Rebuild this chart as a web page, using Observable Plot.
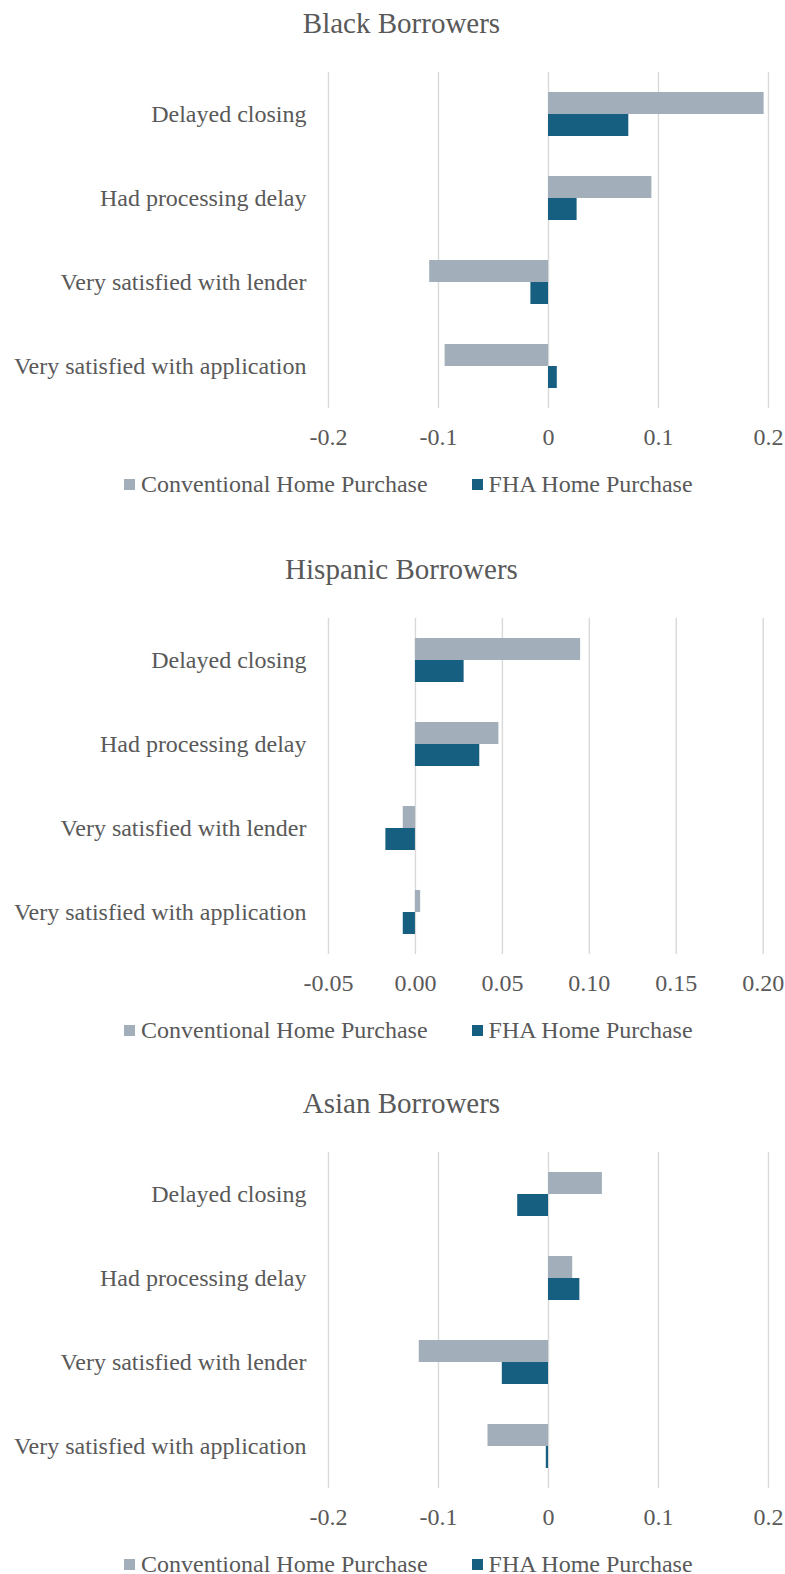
<!DOCTYPE html>
<html>
<head>
<meta charset="utf-8">
<script src="https://cdn.jsdelivr.net/npm/d3@7"></script>
<script src="https://cdn.jsdelivr.net/npm/@observablehq/plot@0.6"></script>
<style>
  html, body { margin: 0; padding: 0; background: #ffffff; }
  body { width: 785px; height: 1574px; overflow: hidden; position: relative;
         font-family: "Liberation Serif", "Times New Roman", serif; color: #595959; }
  .title { position: absolute; left: 401.5px; transform: translateX(-50%); white-space: nowrap;
           font-size: 29px; line-height: 29px; color: #595959; }
  .legend { position: absolute; left: 124px; display: flex; align-items: center;
            font-size: 24px; line-height: 24px; white-space: nowrap; color: #595959; }
  .legend .sw { width: 11px; height: 11px; display: inline-block; margin-right: 6px; }
  .legend .item { display: flex; align-items: center; margin-right: 44px; }
  .panel { position: absolute; left: 0; }
</style>
</head>
<body>
<script>
// ---- data ----
const categories = ["Delayed closing", "Had processing delay", "Very satisfied with lender", "Very satisfied with application"];
const seriesNames = ["Conventional Home Purchase", "FHA Home Purchase"];
const seriesColors = ["#a2aeb9", "#175f80"];

const blackConv = [0.196, 0.094, -0.108, -0.094];
const blackFHA  = [0.073, 0.026, -0.016, 0.008];

const hispanicConv = [0.095, 0.048, -0.007, 0.003];
const hispanicFHA  = [0.028, 0.037, -0.017, -0.007];

const asianConv = [0.049, 0.022, -0.1175, -0.055];
const asianFHA  = [-0.028, 0.0285, -0.042, -0.002];

const ticksWide = [-0.2, -0.1, 0, 0.1, 0.2];
const tickLabelsWide = ["-0.2", "-0.1", "0", "0.1", "0.2"];
const ticksHispanic = [-0.05, 0, 0.05, 0.10, 0.15, 0.20];
const tickLabelsHispanic = ["-0.05", "0.00", "0.05", "0.10", "0.15", "0.20"];

const panelTitles = ["Black Borrowers", "Hispanic Borrowers", "Asian Borrowers"];

// ---- layout ----
const FRAME_H = 336;
const MT = 20, MB = 50;

function makePanel(title, conv, fha, ticks, labels, frameTop, marginRight) {
  const rows = [];
  categories.forEach((c, i) => {
    rows.push({category: c, series: seriesNames[0], value: conv[i]});
    rows.push({category: c, series: seriesNames[1], value: fha[i]});
  });
  const convRows = rows.filter(d => d.series === seriesNames[0]);
  const fhaRows = rows.filter(d => d.series === seriesNames[1]);
  const padInner = 0.476;
  const bw = (FRAME_H / categories.length) * (1 - padInner);

  const fmt = d => {
    const k = ticks.findIndex(t => Math.abs(t - d) < 1e-9);
    return k >= 0 ? labels[k] : "";
  };

  const chart = Plot.plot({
    width: 785,
    height: MT + FRAME_H + MB,
    marginTop: MT,
    marginBottom: MB,
    marginLeft: 328,
    marginRight: marginRight,
    style: {fontFamily: "'Liberation Serif', 'Times New Roman', serif", fontSize: "24px", color: "#595959", background: "transparent", overflow: "visible"},
    x: {domain: [ticks[0], ticks[ticks.length - 1]], ticks: ticks, tickFormat: fmt, tickSize: 0, tickPadding: 19, label: null},
    y: {domain: categories, paddingInner: padInner, paddingOuter: padInner / 2, tickSize: 0, tickPadding: 22, label: null},
    marks: [
      Plot.ruleX(ticks, {stroke: "#d9d9d9", strokeWidth: 1.4}),
      Plot.barX(convRows, {x: "value", y: "category", fill: seriesColors[0], insetBottom: bw / 2}),
      Plot.barX(fhaRows, {x: "value", y: "category", fill: seriesColors[1], insetTop: bw / 2})
    ]
  });
  chart.classList.add("panel");
  chart.style.top = (frameTop - MT) + "px";
  document.body.appendChild(chart);

  const t = document.createElement("div");
  t.className = "title";
  t.textContent = title;
  t.style.top = (frameTop - 40 - 23.3) + "px";
  document.body.appendChild(t);

  const lg = document.createElement("div");
  lg.className = "legend";
  lg.style.top = (frameTop + FRAME_H + 76 - 12) + "px";
  seriesNames.forEach((s, i) => {
    const it = document.createElement("span");
    it.className = "item";
    const sw = document.createElement("span");
    sw.className = "sw";
    sw.style.background = seriesColors[i];
    const tx = document.createElement("span");
    tx.textContent = s;
    it.appendChild(sw);
    it.appendChild(tx);
    lg.appendChild(it);
  });
  document.body.appendChild(lg);
}

makePanel(panelTitles[0], blackConv, blackFHA, ticksWide, tickLabelsWide, 72, 17);
makePanel(panelTitles[1], hispanicConv, hispanicFHA, ticksHispanic, tickLabelsHispanic, 618, 22.3);
makePanel(panelTitles[2], asianConv, asianFHA, ticksWide, tickLabelsWide, 1152, 17);
</script>
</body>
</html>
